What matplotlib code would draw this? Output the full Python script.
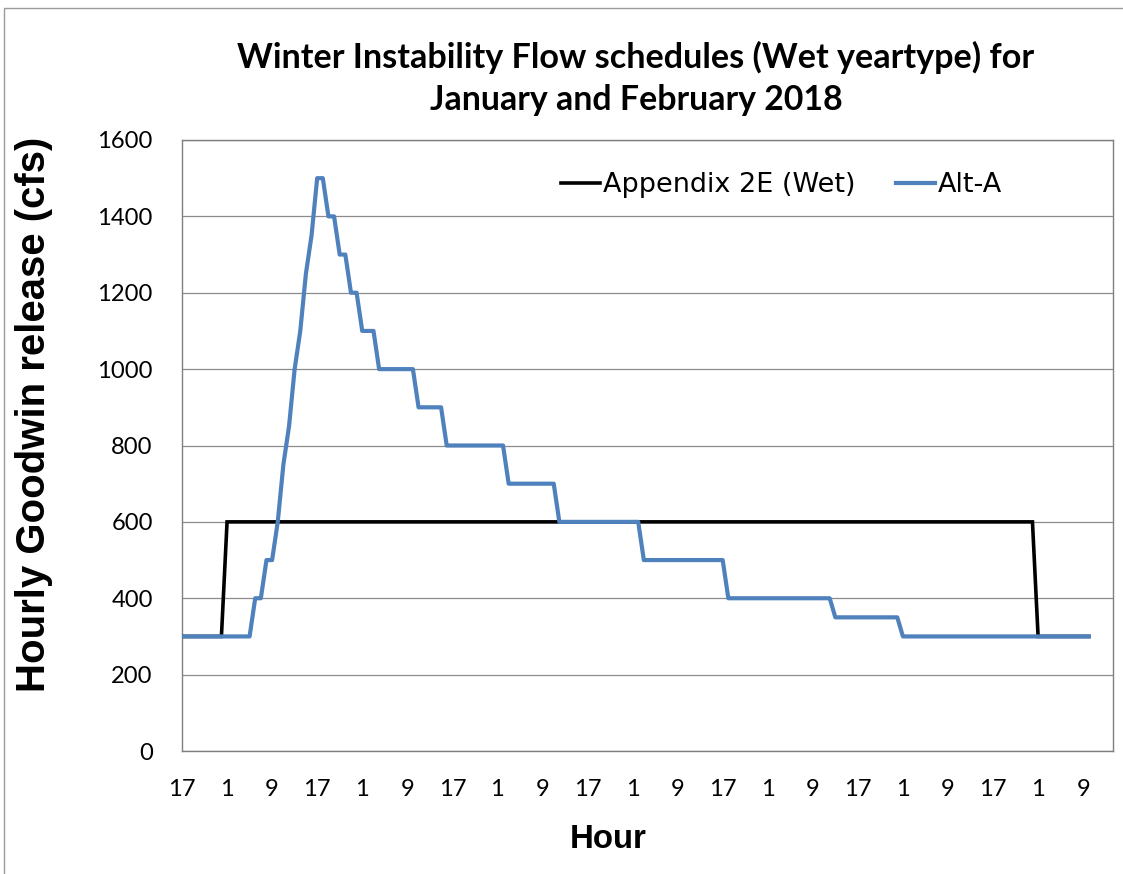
import matplotlib
matplotlib.use("Agg")
import matplotlib.pyplot as plt
from matplotlib.patches import Rectangle
from matplotlib import font_manager
import numpy as np

# ---------------- data ----------------
title_line1 = "Winter Instability Flow schedules (Wet yeartype) for"
title_line2 = "January and February 2018"
y_label = "Hourly Goodwin release (cfs)"
x_label = "Hour"
series_names = ["Appendix 2E (Wet)", "Alt-A"]

x_tick_labels = ["17", "1", "9", "17", "1", "9", "17", "1", "9", "17", "1",
                 "9", "17", "1", "9", "17", "1", "9", "17", "1", "9"]
y_ticks = [0, 200, 400, 600, 800, 1000, 1200, 1400, 1600]

appendix_2e = [
    300, 300, 300, 300, 300, 300, 300, 300,
    600, 600, 600, 600, 600, 600, 600, 600, 600, 600, 600, 600,
    600, 600, 600, 600, 600, 600, 600, 600, 600, 600, 600, 600,
    600, 600, 600, 600, 600, 600, 600, 600, 600, 600, 600, 600,
    600, 600, 600, 600, 600, 600, 600, 600, 600, 600, 600, 600,
    600, 600, 600, 600, 600, 600, 600, 600, 600, 600, 600, 600,
    600, 600, 600, 600, 600, 600, 600, 600, 600, 600, 600, 600,
    600, 600, 600, 600, 600, 600, 600, 600, 600, 600, 600, 600,
    600, 600, 600, 600, 600, 600, 600, 600, 600, 600, 600, 600,
    600, 600, 600, 600, 600, 600, 600, 600, 600, 600, 600, 600,
    600, 600, 600, 600, 600, 600, 600, 600, 600, 600, 600, 600,
    600, 600, 600, 600, 600, 600, 600, 600, 600, 600, 600, 600,
    600, 600, 600, 600, 600, 600, 600, 600, 600, 600, 600, 600,
    300, 300, 300, 300, 300, 300, 300, 300, 300, 300,
]

alt_a = [
    300, 300, 300, 300, 300, 300, 300, 300, 300, 300, 300, 300, 300,
    400, 400, 500, 500, 600, 750, 850, 1000, 1100, 1250, 1350,
    1500, 1500, 1400, 1400, 1300, 1300, 1200, 1200, 1100, 1100, 1100,
    1000, 1000, 1000, 1000, 1000, 1000, 1000,
    900, 900, 900, 900, 900,
    800, 800, 800, 800, 800, 800, 800, 800, 800, 800, 800,
    700, 700, 700, 700, 700, 700, 700, 700, 700,
    600, 600, 600, 600, 600, 600, 600, 600, 600, 600, 600, 600, 600, 600, 600,
    500, 500, 500, 500, 500, 500, 500, 500, 500, 500, 500, 500, 500, 500, 500,
    400, 400, 400, 400, 400, 400, 400, 400, 400, 400, 400, 400, 400, 400, 400,
    400, 400, 400, 400,
    350, 350, 350, 350, 350, 350, 350, 350, 350, 350, 350, 350,
    300, 300, 300, 300, 300, 300, 300, 300, 300, 300, 300, 300, 300, 300, 300,
    300, 300, 300, 300, 300, 300, 300, 300, 300, 300, 300, 300, 300, 300, 300,
    300, 300, 300, 300,
]

# ---------------- style ----------------
W, H = 1123, 874
DPI = 100
PX = 72.0 / DPI  # points per pixel
available = {f.name for f in font_manager.fontManager.ttflist}
body_font = "Lato" if "Lato" in available else "DejaVu Sans"
label_font = "Liberation Sans" if "Liberation Sans" in available else "DejaVu Sans"
legend_font = "DejaVu Sans"

BLUE = "#4F81BD"
GRID = "#8C8C8C"
FRAME = "#7F7F7F"

fig = plt.figure(figsize=(W / DPI, H / DPI), dpi=DPI)
fig.patch.set_facecolor("white")

def fx(px):
    return px / W

def fy(py):
    return 1 - py / H

left, right, top, bottom = 182, 1113, 140, 751
ax = fig.add_axes([fx(left), fy(bottom), fx(right) - fx(left), fy(top) - fy(bottom)])

x_black = np.arange(len(appendix_2e))
x_blue = np.arange(len(alt_a))
ax.plot(x_black, appendix_2e, color="black", lw=2.6, solid_joinstyle="miter",
        label=series_names[0], zorder=3)
ax.plot(x_blue, alt_a, color=BLUE, lw=3.0, solid_joinstyle="round",
        label=series_names[1], zorder=4)

ax.set_xlim(0, 165.3)
ax.set_ylim(0, 1600)
ax.set_yticks(y_ticks)
ax.set_xticks(np.arange(0, len(x_tick_labels) * 8, 8))
ax.set_xticklabels(x_tick_labels)
ax.grid(axis="y", color=GRID, lw=0.9, zorder=1)
ax.set_axisbelow(True)
for s in ax.spines.values():
    s.set_color(FRAME)
    s.set_linewidth(1.0)
ax.tick_params(axis="both", length=0, labelsize=19, colors="black")
ax.tick_params(axis="y", pad=21)
ax.tick_params(axis="x", pad=20)
for lab in ax.get_xticklabels() + ax.get_yticklabels():
    lab.set_fontfamily(body_font)

t1 = fig.text(fx(636), fy(57), title_line1, ha="center", va="center",
              fontsize=25, fontweight="bold", family=body_font)
t2 = fig.text(fx(636), fy(100), title_line2, ha="center", va="center",
              fontsize=25, fontweight="bold", family=body_font)
yl = fig.text(fx(34), fy(414), y_label, ha="center", va="center", rotation=90,
              fontsize=26, fontweight="bold", family=label_font)
xl = fig.text(fx(608), fy(839), x_label, ha="center", va="center",
              fontsize=26, fontweight="bold", family=label_font)
probe = fig.text(0, 0, series_names[0], fontsize=17, family=legend_font)

# outer chart border
fig.add_artist(Rectangle((fx(4), fy(H + 10)), fx(W + 10) - fx(4), fy(8) - fy(H + 10),
                         transform=fig.transFigure, fill=False, edgecolor="#9A9A9A", lw=1.0))

# ---- fit text sizes to measured widths ----
fig.canvas.draw()
r = fig.canvas.get_renderer()

def fit(t, target, vertical=False):
    bb = t.get_window_extent(r)
    cur = bb.height if vertical else bb.width
    t.set_fontsize(t.get_fontsize() * target / cur)

fit(t1, 797)
fit(t2, 413)
fit(yl, 555, vertical=True)
fit(xl, 77)
ylab0 = [l for l in ax.get_yticklabels() if l.get_text() == "1600"]
if ylab0:
    bb = ylab0[0].get_window_extent(r)
    size = 19 * 55 / bb.width
    ax.tick_params(axis="both", labelsize=size)

leg_size = 17 * 252 / probe.get_window_extent(r).width
probe.remove()
em = leg_size / PX  # font size in pixels
leg = ax.legend(loc="center left",
                bbox_to_anchor=((561 - left) / (right - left), (bottom - 185) / (bottom - top)),
                ncol=2, frameon=False, borderpad=0, borderaxespad=0,
                handlelength=39 / em, handletextpad=3 / em,
                columnspacing=40 / em, prop={"family": legend_font, "size": leg_size})

fig.savefig("out.png", dpi=DPI, facecolor="white")
